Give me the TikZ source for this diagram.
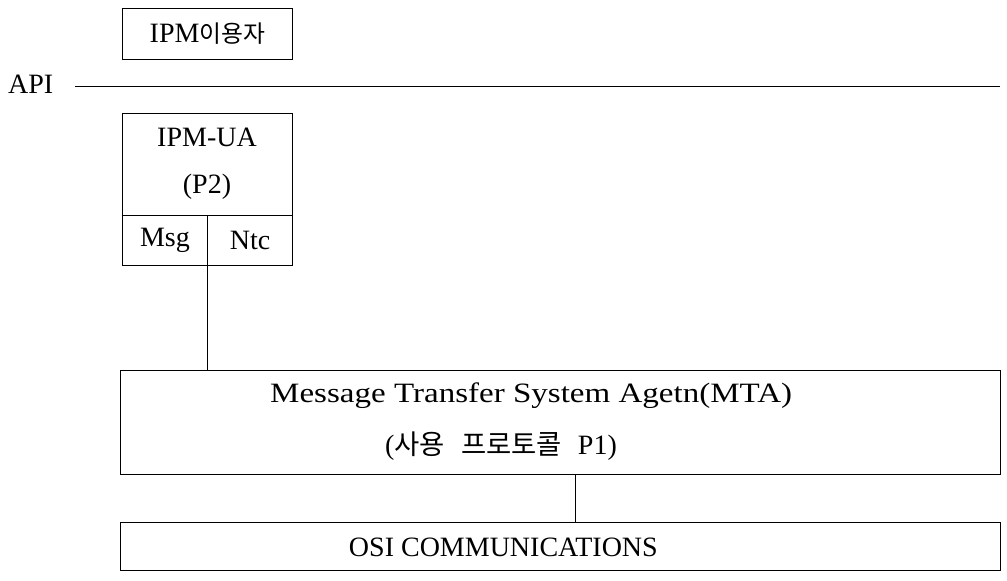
\documentclass[tikz,border=0pt]{standalone}
\usepackage{fontspec}
\setmainfont{Liberation Serif}
\newfontfamily\kr{Noto Sans CJK KR}[Scale=0.85]
\newfontfamily\krw{Noto Sans CJK KR}[Scale=0.98]
\newfontfamily\wide{Liberation Serif}[FakeStretch=1.18]
\begin{document}
\begin{tikzpicture}[x=1pt,y=-1pt,
  box/.style={draw,line width=0.9pt},
  lbl/.style={font=\fontsize{28}{28}\selectfont,inner sep=0pt},
  ln/.style={line width=0.9pt}]
\useasboundingbox (0,0) rectangle (1007,581);
% top user box
\node[box,minimum width=170pt,minimum height=51pt,anchor=north west,lbl] (user) at (122,8) {IPM{\kr 이용자}};
% API line
\node[lbl,anchor=west] (api) at (8,84) {API};
\coordinate (apiend) at (1000,86);
\draw[ln] (75,86) -- (apiend);
% IPM-UA
\node[box,minimum width=170pt,minimum height=152pt,anchor=north west] (ua) at (122,113) {};
\node[lbl] (uat) at (207,137) {IPM-UA};
\node[lbl] (p2) at (207,187) {(P2)};
\coordinate (sepL) at (122,215);
\coordinate (sepR) at (292,215);
\draw[ln] (sepL) -- (sepR);
\coordinate (vtop) at (207,215);
\node[lbl] (msg) at (165,240) {Msg};
\node[lbl] (ntc) at (250,240) {Ntc};
% MTA
\node[box,minimum width=880pt,minimum height=104pt,anchor=north west] (mta) at (120,370) {};
\node[lbl,anchor=west] (mta1) at (270,396) {\wide Message Transfer System Agetn(MTA)};
\node[lbl,anchor=west] (mta2) at (385,446) {({\krw 사용}\hspace{16pt}{\krw 프로토콜}\hspace{16pt}P1)};
\draw[ln] (vtop) -- (vtop |- mta.north);
% OSI
\node[box,minimum width=880pt,minimum height=48pt,anchor=north west] (osi) at (120,522) {};
\node[lbl,anchor=east] (osit) at (658,547) {OSI COMMUNICATIONS};
\draw[ln] (575,474) coordinate (c1) -- (c1 |- osi.north);
\end{tikzpicture}
\end{document}
